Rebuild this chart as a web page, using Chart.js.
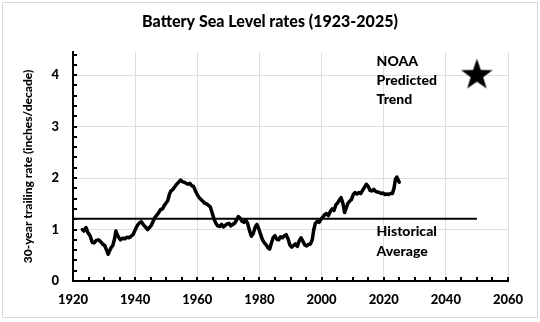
<!DOCTYPE html>
<html><head><meta charset="utf-8">
<script src="https://cdn.jsdelivr.net/npm/chart.js@4.4.1/dist/chart.umd.min.js"></script>
<style>html,body{margin:0;padding:0;background:#fff}canvas{display:block}</style>
</head><body>
<canvas id="c" width="540" height="322"></canvas>
<script>
const chartTitle = 'Battery Sea Level rates (1923-2025)';
const yAxisTitle = '30-year trailing rate (inches/decade)';

const years = [1923.0,1923.5,1924.2,1924.8,1925.5,1926.2,1926.8,1927.5,1928.2,1928.8,1929.5,1930.2,1930.8,1931.3,1931.8,1932.3,1932.8,1933.3,1933.8,1934.3,1934.8,1935.3,1936.0,1936.7,1937.3,1938.0,1938.7,1939.3,1940.0,1940.7,1941.4,1942.0,1942.7,1943.3,1944.0,1944.6,1945.2,1945.8,1946.4,1947.0,1947.6,1948.2,1948.8,1949.4,1950.0,1950.5,1951.0,1951.5,1952.0,1952.5,1953.0,1953.5,1954.0,1954.6,1955.2,1955.8,1956.4,1957.0,1957.6,1958.2,1958.8,1959.4,1960.0,1960.6,1961.2,1961.8,1962.4,1963.0,1963.6,1964.2,1964.8,1965.4,1966.0,1966.6,1967.2,1967.8,1968.4,1969.0,1969.6,1970.2,1970.8,1971.4,1972.0,1972.6,1973.2,1973.8,1974.4,1975.0,1975.6,1976.2,1976.8,1977.4,1978.0,1978.6,1979.2,1979.8,1980.4,1981.0,1981.6,1982.2,1982.8,1983.3,1983.8,1984.4,1985.0,1985.6,1986.2,1986.8,1987.4,1988.0,1988.6,1989.2,1989.8,1990.4,1991.0,1991.6,1992.2,1992.8,1993.4,1994.0,1994.6,1995.2,1995.8,1996.4,1997.0,1997.5,1998.0,1998.6,1999.2,1999.8,2000.4,2001.0,2001.6,2002.2,2002.8,2003.4,2004.0,2004.6,2005.2,2005.8,2006.3,2006.9,2007.4,2007.9,2008.4,2009.0,2009.6,2010.2,2010.8,2011.4,2012.0,2012.6,2013.2,2013.8,2014.4,2015.0,2015.6,2016.2,2016.8,2017.4,2018.0,2018.6,2019.2,2019.8,2020.4,2021.0,2021.6,2022.2,2022.8,2023.3,2023.8,2024.2,2024.6,2025.0];
const rates = [1.00,0.97,1.04,0.94,0.88,0.75,0.74,0.79,0.80,0.77,0.72,0.69,0.60,0.52,0.59,0.65,0.69,0.80,0.97,0.89,0.84,0.80,0.83,0.82,0.85,0.84,0.87,0.90,0.99,1.08,1.13,1.15,1.09,1.05,1.00,1.04,1.08,1.16,1.24,1.28,1.33,1.39,1.40,1.47,1.52,1.56,1.68,1.75,1.77,1.81,1.85,1.89,1.92,1.96,1.93,1.92,1.90,1.88,1.90,1.85,1.84,1.75,1.68,1.62,1.58,1.55,1.51,1.50,1.47,1.44,1.32,1.20,1.12,1.07,1.06,1.10,1.05,1.08,1.11,1.12,1.07,1.10,1.12,1.18,1.25,1.22,1.16,1.14,1.18,1.12,0.98,0.87,0.92,1.04,1.10,1.01,0.90,0.80,0.74,0.70,0.64,0.62,0.73,0.84,0.88,0.81,0.80,0.86,0.84,0.88,0.90,0.82,0.70,0.66,0.69,0.72,0.67,0.78,0.84,0.77,0.70,0.68,0.71,0.72,0.80,1.00,1.12,1.16,1.14,1.20,1.24,1.29,1.31,1.27,1.35,1.40,1.37,1.48,1.52,1.58,1.62,1.50,1.33,1.41,1.50,1.55,1.58,1.68,1.72,1.69,1.72,1.70,1.76,1.82,1.88,1.84,1.76,1.75,1.78,1.74,1.73,1.72,1.70,1.71,1.68,1.69,1.68,1.70,1.70,1.80,1.98,2.02,1.97,1.92];

const historicalYears = [1920, 2050];
const historicalAverage = [1.21, 1.21];
const noaaYears = [2050];
const noaaTrend = [4.0];

const xTickLabels = ['1920','1940','1960','1980','2000','2020','2040','2060'];
const yTickLabels = ['0','1','2','3','4'];
const noaaLabel = ['NOAA','Predicted','Trend'];
const historicalLabel = ['Historical','Average'];

const FONT = 'Lato, "Open Sans", sans-serif';
const W = '900';

function makeStar(R) {
  const c = document.createElement('canvas');
  const s = Math.ceil(R * 2 + 2);
  c.width = s; c.height = s;
  const g = c.getContext('2d');
  const cx = s / 2, cy = s / 2, r = R * 0.4;
  g.beginPath();
  for (let i = 0; i < 10; i++) {
    const rad = i % 2 === 0 ? R : r;
    const a = -Math.PI / 2 + i * Math.PI / 5;
    const px = cx + rad * Math.cos(a), py = cy + rad * Math.sin(a);
    if (i === 0) g.moveTo(px, py); else g.lineTo(px, py);
  }
  g.closePath();
  g.fillStyle = '#000';
  g.fill();
  return c;
}
const starImg = makeStar(16.5);

const decor = {
  id: 'decor',
  beforeDraw(chart) {
    const ctx = chart.ctx;
    ctx.save();
    ctx.fillStyle = '#fff';
    ctx.fillRect(0, 0, chart.width, chart.height);
    ctx.strokeStyle = '#d9d9d9';
    ctx.lineWidth = 1;
    ctx.strokeRect(2.5, 2.5, 535, 315);
    ctx.restore();
  },
  afterDraw(chart) {
    const ctx = chart.ctx;
    const xs = chart.scales.x, ys = chart.scales.y;
    const a = chart.chartArea;
    ctx.save();
    ctx.strokeStyle = '#000';
    ctx.lineWidth = 2;
    ctx.beginPath();
    for (let v = 0.2; v <= 4.41; v += 0.2) {
      const py = Math.round(ys.getPixelForValue(v));
      ctx.moveTo(a.left, py);
      ctx.lineTo(a.left + 4, py);
    }
    for (let v = 1925; v <= 2060; v += 5) {
      const px = Math.round(xs.getPixelForValue(v));
      ctx.moveTo(px, a.bottom);
      ctx.lineTo(px, a.bottom - 4);
    }
    ctx.stroke();

    ctx.fillStyle = '#000';
    ctx.font = W + ' 14px ' + FONT;
    ctx.textAlign = 'left';
    ctx.textBaseline = 'middle';
    const nx = xs.getPixelForValue(2017.7);
    const ny = ys.getPixelForValue(4.275);
    noaaLabel.forEach((t, i) => ctx.fillText(t, nx, ny + i * 19));
    const hy = ys.getPixelForValue(0.958);
    historicalLabel.forEach((t, i) => ctx.fillText(t, nx, hy + i * 19.5));
    ctx.restore();
  }
};

new Chart(document.getElementById('c'), {
  type: 'line',
  data: {
    datasets: [
      {
        data: years.map((y, i) => ({x: y, y: rates[i]})),
        borderColor: '#000', borderWidth: 3.5, pointRadius: 0, tension: 0,
        borderJoinStyle: 'round', borderCapStyle: 'round'
      },
      {
        data: historicalYears.map((y, i) => ({x: y, y: historicalAverage[i]})),
        borderColor: '#000', borderWidth: 2, pointRadius: 0
      },
      {
        data: noaaYears.map((y, i) => ({x: y, y: noaaTrend[i]})),
        showLine: false, pointStyle: starImg, pointRadius: 16, clip: false
      }
    ]
  },
  options: {
    responsive: false,
    animation: false,
    devicePixelRatio: 1,
    layout: {padding: 0},
    plugins: {
      legend: {display: false},
      tooltip: {enabled: false},
      title: {
        display: true, text: chartTitle, color: '#000',
        font: {family: FONT, size: 16, weight: W, lineHeight: 1.2},
        padding: {top: 12.5, bottom: 20.3}
      }
    },
    scales: {
      x: {
        type: 'linear', min: 1920, max: 2060,
        afterFit: s => { s.height = 41; },
        ticks: {
          stepSize: 20, color: '#000', padding: 11, maxRotation: 0,
          font: {family: FONT, size: 13, weight: W},
          callback: v => xTickLabels[Math.round((v - 1920) / 20)]
        },
        grid: {color: '#dedede', lineWidth: 1, drawTicks: false},
        border: {display: true, color: '#000', width: 2}
      },
      y: {
        min: 0, max: 4.45,
        afterFit: s => { s.width = 73; },
        afterBuildTicks: s => { s.ticks = s.ticks.filter(t => Number.isInteger(t.value)); },
        ticks: {
          stepSize: 1, color: '#000', padding: 14,
          font: {family: FONT, size: 13, weight: W},
          callback: v => yTickLabels[v]
        },
        title: {
          display: true, text: yAxisTitle, color: '#000',
          font: {family: FONT, size: 12, weight: W, lineHeight: 1.2},
          padding: {top: 21, bottom: 0}
        },
        grid: {color: '#dedede', lineWidth: 1, drawTicks: false},
        border: {display: true, color: '#000', width: 2}
      },
      y2: {
        position: 'right', display: true, min: 0, max: 1,
        afterFit: s => { s.width = 32; },
        ticks: {display: false},
        grid: {display: false, drawTicks: false},
        border: {display: false}
      }
    }
  },
  plugins: [decor]
});
</script>
</body></html>
